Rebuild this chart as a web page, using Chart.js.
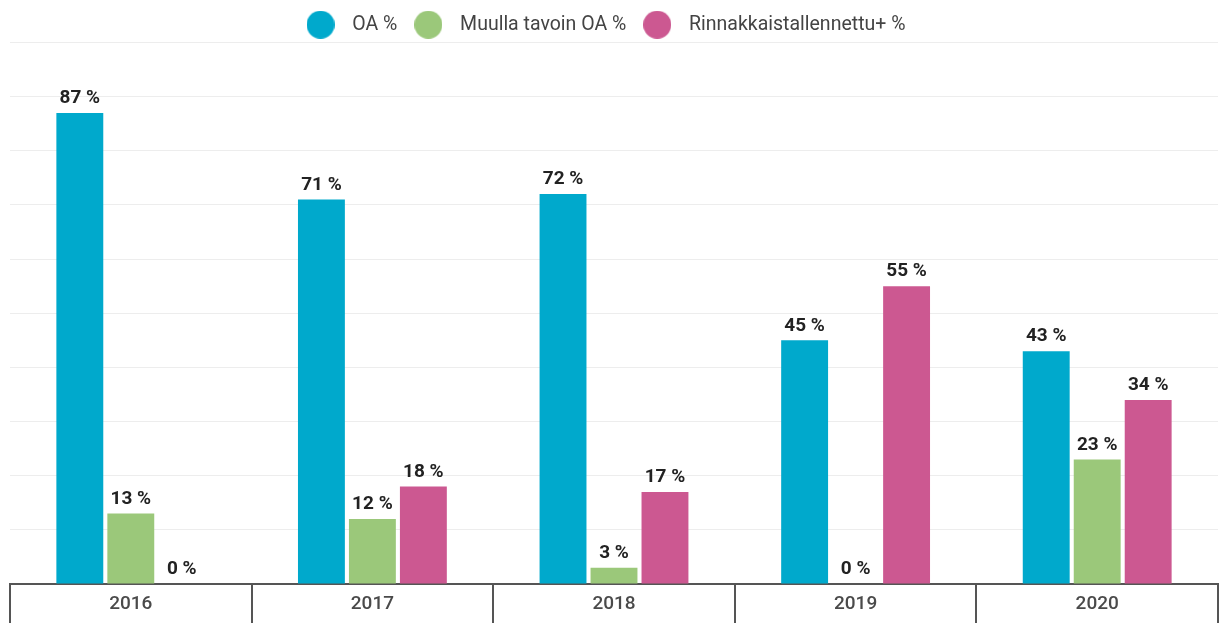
<!DOCTYPE html>
<html lang="fi">
<head>
<meta charset="utf-8">
<title>OA-osuudet 2016–2020</title>
<script src="https://cdn.jsdelivr.net/npm/chart.js@4/dist/chart.umd.min.js"></script>
<style>
  html, body { margin: 0; padding: 0; background: #fff; }
  #kaavio { display: block; }
</style>
</head>
<body>
<canvas id="kaavio" width="1220" height="623"></canvas>
<script>
// vuodet (x-akseli)
const vuodet = ["2016", "2017", "2018", "2019", "2020"];

// sarjojen nimet
const sarjaNimet = ["OA %", "Muulla tavoin OA %", "Rinnakkaistallennettu+ %"];

// arvot luettu kuvasta, prosentteina
const oaArvot = [87, 71, 72, 45, 43];
const muullaArvot = [13, 12, 3, 0, 23];
const rinnakkaisArvot = [0, 18, 17, 55, 34];

// värit
const sarjaVarit = ["#00a9cc", "#9bc87a", "#cc5891"];

// legendan pallo omana canvaksena, jotta koko ei riipu fontista
function pallo(vari) {
    const c = document.createElement("canvas");
    c.width = 28;
    c.height = 28;
    const g = c.getContext("2d");
    g.fillStyle = vari;
    g.beginPath();
    g.arc(14, 14, 14, 0, Math.PI * 2);
    g.fill();
    return c;
}

// prosenttilukemat pylväiden päälle
const arvoLabelit = {
    id: "arvoLabelit",
    afterDatasetsDraw(chart) {
        const ctx = chart.ctx;
        ctx.save();
        ctx.font = "bold 19px Roboto";
        ctx.fillStyle = "#222";
        ctx.textAlign = "center";
        ctx.textBaseline = "bottom";
        chart.data.datasets.forEach((ds, i) => {
            chart.getDatasetMeta(i).data.forEach((bar, j) => {
                ctx.fillText(ds.data[j] + " %", bar.x, bar.y - 5);
            });
        });
        ctx.restore();
    }
};

// legenda hieman vasemmalle ja alemmas, kuten alkuperäisessä
const legendaSiirto = {
    id: "legendaSiirto",
    afterLayout(chart) {
        chart.legend.left -= 12;
        chart.legend.right -= 12;
        chart.legend.top += 2;
        chart.legend.bottom += 2;
    }
};

const datasetit = [oaArvot, muullaArvot, rinnakkaisArvot].map((arvot, i) => ({
    label: sarjaNimet[i],
    data: arvot,
    backgroundColor: sarjaVarit[i],
    categoryPercentage: 0.633,
    barPercentage: 0.92
}));

new Chart(document.getElementById("kaavio"), {
    type: "bar",
    data: { labels: vuodet, datasets: datasetit },
    options: {
        responsive: false,
        animation: false,
        devicePixelRatio: 1,
        layout: { padding: { top: 4, left: 10, right: 2, bottom: 0 } },
        plugins: {
            tooltip: { enabled: false },
            legend: {
                position: "top",
                labels: {
                    usePointStyle: true,
                    pointStyleWidth: 44,
                    padding: 9,
                    color: "#444",
                    font: { family: "Roboto", size: 19.5 },
                    generateLabels(chart) {
                        const oletus = Chart.defaults.plugins.legend.labels.generateLabels(chart);
                        return oletus.map((item, i) => ({ ...item, pointStyle: pallo(sarjaVarit[i]) }));
                    }
                }
            }
        },
        scales: {
            x: {
                afterFit(scale) { scale.height = 39; },
                border: { display: true, color: "#555", width: 2 },
                grid: {
                    display: true,
                    offset: true,
                    drawOnChartArea: false,
                    drawTicks: true,
                    tickLength: 39,
                    color: "#555",
                    lineWidth: 2
                },
                ticks: {
                    padding: -30,
                    color: "#4a4a4a",
                    font: { family: "Roboto", size: 19, weight: "500" }
                }
            },
            y: {
                min: 0,
                max: 100,
                border: { display: false },
                grid: { color: "#ededed", lineWidth: 1, drawTicks: false },
                ticks: { display: false, stepSize: 10 }
            }
        }
    },
    plugins: [arvoLabelit, legendaSiirto]
});
</script>
</body>
</html>
